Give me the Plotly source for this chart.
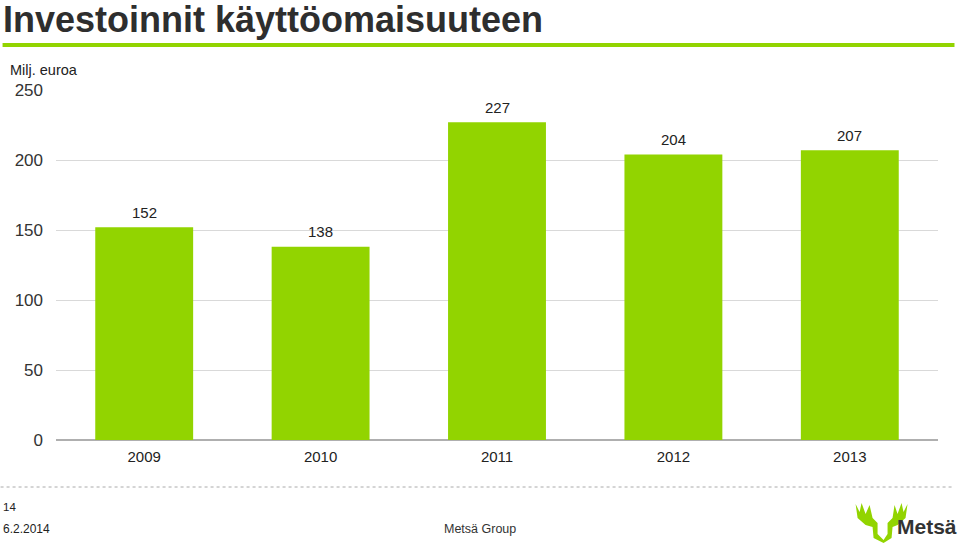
import plotly.graph_objects as go

years = ["2009", "2010", "2011", "2012", "2013"]
values = [152, 138, 227, 204, 207]
y_ticks = [0, 50, 100, 150, 200, 250]

GREEN = "#92D400"

fig = go.Figure()
fig.add_trace(go.Bar(
    x=years, y=values, marker=dict(color=GREEN, line=dict(width=0)),
    width=0.555, hoverinfo="skip",
))

for i, v in enumerate(values):
    fig.add_annotation(x=i, y=v, xref="x", yref="y", text=str(v), showarrow=False,
                       yanchor="middle", yshift=15, font=dict(size=15, color="#222222"))

fig.update_layout(
    width=960, height=546,
    margin=dict(l=55.5, r=21.5, t=90, b=106),
    paper_bgcolor="white", plot_bgcolor="white",
    showlegend=False, bargap=0.445,
    font=dict(family="Liberation Sans, Arial", color="#222222"),
    xaxis=dict(type="category", range=[-0.5, len(years) - 0.5], autorange=False,
               showgrid=False, tickfont=dict(size=15, color="#222222"),
               ticks="", showline=False, ticklabelstandoff=6),
    yaxis=dict(range=[0, 250], autorange=False, tickvals=y_ticks, showgrid=True,
               gridcolor="#D9D9D9", gridwidth=1, zeroline=True, zerolinecolor="#AFAFAF",
               zerolinewidth=1.5, tickfont=dict(size=17, color="#333333"), ticks="",
               showline=False, ticklabelstandoff=12),
)

def px_x(px):
    return (px - 55.5) / (960 - 55.5 - 21.5)
def px_y(py):
    return (440 - py) / (440 - 90)

fig.add_annotation(text="<b>Investoinnit käyttöomaisuuteen</b>", xref="paper", yref="paper",
                   x=px_x(0), y=px_y(19), xanchor="left", yanchor="middle", showarrow=False,
                   font=dict(size=36, color="#2E2E2E", family="Liberation Sans, Arial"))
fig.add_annotation(text="Milj. euroa", xref="paper", yref="paper",
                   x=px_x(7), y=px_y(70), xanchor="left", yanchor="middle", showarrow=False,
                   font=dict(size=14.5, color="#222222"))
fig.add_annotation(text="14", xref="paper", yref="paper",
                   x=px_x(0), y=px_y(507), xanchor="left", yanchor="middle", showarrow=False,
                   font=dict(size=11.5, color="#222222"))
fig.add_annotation(text="6.2.2014", xref="paper", yref="paper",
                   x=px_x(0), y=px_y(529), xanchor="left", yanchor="middle", showarrow=False,
                   font=dict(size=12, color="#222222"))
fig.add_annotation(text="Metsä Group", xref="paper", yref="paper",
                   x=px_x(480), y=px_y(529), xanchor="center", yanchor="middle", showarrow=False,
                   font=dict(size=12.5, color="#333333"))
fig.add_annotation(text="<b>Metsä</b>", xref="paper", yref="paper",
                   x=px_x(895), y=px_y(526), xanchor="left", yanchor="middle", showarrow=False,
                   font=dict(size=21, color="#333333"))

# green rule under title
fig.add_shape(type="line", xref="paper", yref="paper", x0=px_x(2), x1=px_x(955),
              y0=px_y(45), y1=px_y(45), line=dict(color=GREEN, width=4))
# dashed footer rule
fig.add_shape(type="line", xref="paper", yref="paper", x0=px_x(0), x1=px_x(955),
              y0=px_y(487), y1=px_y(487), line=dict(color="#AAAAAA", width=1, dash="dot"))

# simple moose-antler logo
pts = [(856, 504), (860, 512), (862, 503), (866, 514), (870, 505), (873, 518),
       (878, 523), (878, 534), (884, 540), (888, 534), (888, 523), (893, 518),
       (895, 505), (898, 514), (902, 503), (904, 512), (908, 504), (906, 518),
       (898, 525), (893, 527), (892, 538), (884, 543), (874, 538), (873, 527),
       (866, 525), (858, 518)]
path = "M " + " L ".join(f"{px_x(x)},{px_y(y)}" for x, y in pts) + " Z"
fig.add_shape(type="path", xref="paper", yref="paper", path=path,
              fillcolor=GREEN, line=dict(width=0))

fig.write_html("out.html")
